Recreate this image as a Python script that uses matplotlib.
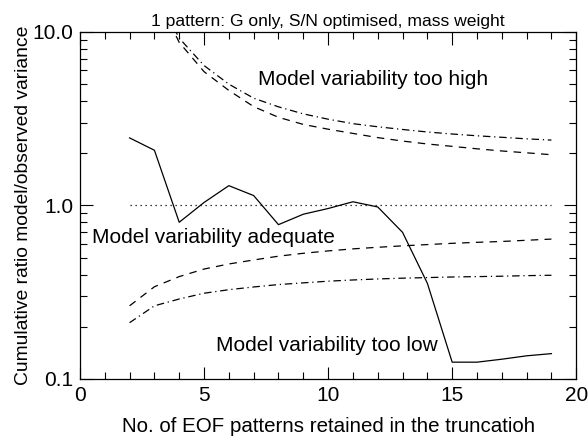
import matplotlib
matplotlib.use('Agg')
from matplotlib import pyplot as plt
from matplotlib.ticker import FixedLocator, MultipleLocator, LogLocator, NullFormatter

plt.rcParams['font.family'] = ['Liberation Sans', 'DejaVu Sans']

# number of EOF patterns retained
n_eof = list(range(2, 20))
ratio = [2.45, 2.08, 0.80, 1.04, 1.30, 1.14, 0.775, 0.89, 0.96, 1.05,
         0.98, 0.70, 0.356, 0.125, 0.125, 0.13, 0.136, 0.14]

# upper and lower bounds of the consistency range
n_upper = list(range(3, 20))
upper_dash = [17.0, 8.7, 5.9, 4.6, 3.71, 3.22, 2.93, 2.75, 2.60, 2.46,
              2.35, 2.26, 2.19, 2.12, 2.06, 2.01, 1.96]
upper_dashdot = [17.5, 9.2, 6.4, 5.0, 4.15, 3.7, 3.37, 3.14, 2.96, 2.84,
                 2.74, 2.65, 2.58, 2.52, 2.47, 2.42, 2.38]
lower_dash = [0.264, 0.34, 0.389, 0.43, 0.46, 0.485, 0.51, 0.53, 0.547, 0.562,
              0.574, 0.585, 0.595, 0.605, 0.613, 0.62, 0.63, 0.64]
lower_dashdot = [0.211, 0.264, 0.289, 0.312, 0.327, 0.339, 0.35, 0.358, 0.366, 0.372,
                 0.377, 0.381, 0.384, 0.387, 0.389, 0.391, 0.394, 0.396]

fig = plt.figure(figsize=(5.88, 4.43), dpi=100)
ax = fig.add_axes([0.136, 0.1445, 0.844, 0.7835])

lw = 0.9
ax.plot(n_eof, ratio, color='black', lw=lw)
ax.plot([n_eof[0], n_eof[-1]], [1.0, 1.0], color='black', lw=lw, linestyle=(0, (1, 3)))
ax.plot(n_upper, upper_dash, color='black', lw=lw, linestyle=(0, (6, 5)))
ax.plot(n_upper, upper_dashdot, color='black', lw=lw, linestyle=(0, (6, 3, 1, 3)))
ax.plot(n_eof, lower_dash, color='black', lw=lw, linestyle=(0, (6, 5)))
ax.plot(n_eof, lower_dashdot, color='black', lw=lw, linestyle=(0, (6, 3, 1, 3)))

ax.set_yscale('log')
ax.set_xlim(0, 20)
ax.set_ylim(0.1, 10.0)

ax.xaxis.set_major_locator(MultipleLocator(5))
ax.xaxis.set_minor_locator(MultipleLocator(1))
ax.yaxis.set_major_locator(FixedLocator([0.1, 1.0, 10.0]))
ax.yaxis.set_minor_locator(LogLocator(base=10, subs=range(2, 10)))
ax.yaxis.set_minor_formatter(NullFormatter())
ax.set_yticklabels(['0.1', '1.0', '10.0'])

ax.tick_params(which='both', direction='in', top=True, right=True, labelsize=15, width=0.8)
ax.tick_params(which='major', length=9, pad=5)
ax.tick_params(which='minor', length=5)
for s in ax.spines.values():
    s.set_linewidth(0.9)

ax.text(7.18, 5.29, 'Model variability too high', fontsize=15, va='center', ha='left')
ax.text(0.48, 0.65, 'Model variability adequate', fontsize=15, va='center', ha='left')
ax.text(5.48, 0.155, 'Model variability too low', fontsize=15, va='center', ha='left')

ax.set_title('1 pattern: G only, S/N optimised, mass weight', fontsize=12.6, pad=4)
ax.set_xlabel('No. of EOF patterns retained in the truncatioh', fontsize=14.8, labelpad=9)
ax.set_ylabel('Cumulative ratio model/observed variance', fontsize=13.9, labelpad=0)

plt.savefig('out.png', dpi=100)
